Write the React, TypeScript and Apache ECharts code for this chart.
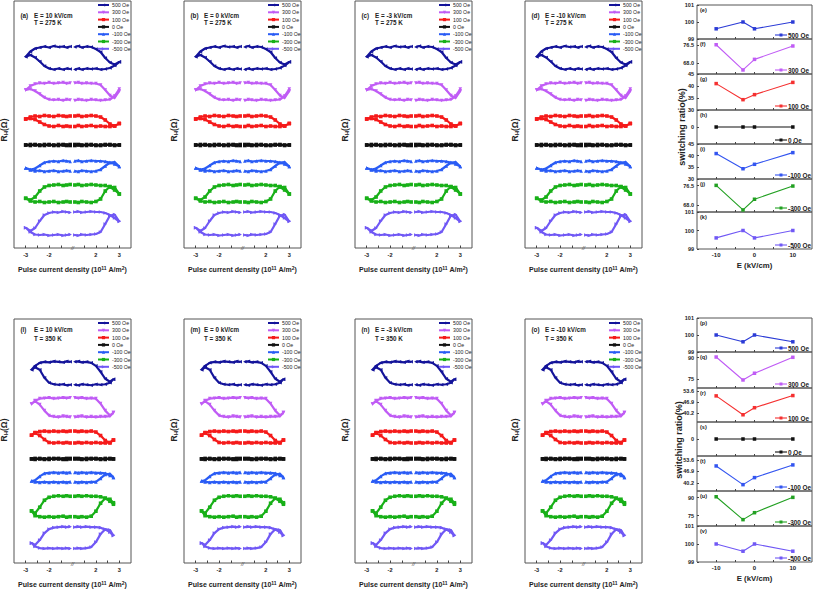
import React, { useEffect, useRef } from 'react';
import * as echarts from 'echarts';

// ---------- legend / series identity ----------
const FIELDS = ['500 Oe', '300 Oe', '100 Oe', '0 Oe', '-100 Oe', '-300 Oe', '-500 Oe'];
const LOOP_COLORS = ['#14149a', '#c05cf5', '#f51a1a', '#111111', '#2a5cf5', '#18b018', '#7058f5'];
const RATIO_COLORS = ['#2b3bd6', '#c05cf5', '#f53030', '#111111', '#3355f0', '#22a022', '#7058f5'];
const SYMBOLS = ['triangle', 'triangle', 'rect', 'rect', 'triangle', 'rect', 'triangle'];
const SYMBOL_ROT = [90, 180, 0, 0, 0, 0, -90];

// ---------- hysteresis loops, T = 275 K (pulse current density, 1e11 A/m^2) ----------
const X_LEFT_275 = [-3, -2.8, -2.6, -2.4, -2.2, -2.0, -1.8, -1.6, -1.4, -1.25, -1.1];
const X_RIGHT_275 = [1.1, 1.25, 1.4, 1.6, 1.8, 2.0, 2.2, 2.4, 2.6, 2.8, 3.0];
// R_H readings (arbitrary units, larger = lower on the plot)
const UPPER_LEFT_275 = [
  [56.7, 51.5, 48.5, 47.5, 46.5, 47.5, 46, 47, 46.5, 47.5, 46.5],
  [90, 86, 84, 83, 83.5, 82.5, 83.5, 83, 82.5, 83.5, 83],
  [119, 117, 116, 116.5, 115.5, 116, 116.5, 115.5, 116, 116.5, 116],
  [145, 144.5, 145, 145.5, 144.5, 145, 145.5, 144.5, 145, 145.5, 144.5],
  [168, 169.5, 168.5, 165.5, 162.5, 161.5, 161, 161.5, 160.5, 161, 161.5],
  [198.3, 200, 197, 191, 187, 185.5, 185, 184.5, 185.5, 185, 184.5],
  [227.7, 231, 228, 221, 215, 213, 212, 212.5, 211.5, 212, 212.5],
];
const UPPER_RIGHT_275 = [
  [47, 46, 47.5, 46.5, 47, 49, 52, 58, 62.5, 64.5, 62],
  [83, 82.5, 83.5, 83, 83.5, 83.5, 85, 90, 95.5, 98, 91],
  [116, 115.5, 116.5, 116, 115.5, 116, 117, 120, 124, 126, 123.5],
  [144.5, 145, 145.5, 144.5, 145, 145.5, 145, 144.5, 145, 145.5, 145],
  [161, 160.5, 161.5, 161, 160.5, 161, 161, 161.5, 162.5, 164, 166.5],
  [185, 184.5, 185.5, 185, 184.5, 185, 185.5, 185.5, 187, 190, 194],
  [212, 211.5, 212.5, 212, 211.5, 212, 212, 213, 215, 218, 221.5],
];
const LOWER_LEFT_275 = [
  [56.7, 55, 57.5, 61.5, 66, 68.5, 69.5, 68.5, 69.5, 68.5, 69],
  [90, 89, 91, 94, 97.5, 99.5, 100, 99.5, 100.5, 99.5, 100],
  [119, 118.5, 119.5, 122, 124.5, 126, 126.5, 125.5, 126.5, 126, 126.5],
  [145, 145.5, 144.5, 145, 145.5, 144.5, 145, 145.5, 144.5, 145, 145.5],
  [168, 170, 171, 170.5, 171.5, 171, 170.5, 171.5, 171, 170.5, 171],
  [198.3, 201, 202, 201.5, 202.5, 202, 201.5, 202.5, 202, 201.5, 202],
  [227.7, 232, 234.5, 235, 234.5, 235.5, 235, 234.5, 235.5, 235, 234.5],
];
const LOWER_RIGHT_275 = [
  [69.5, 68.5, 69.5, 68.5, 69, 68.5, 69.5, 69, 68, 65.5, 61.7],
  [100.5, 99.5, 100, 100.5, 99.5, 100, 100.5, 100, 99.5, 96, 89],
  [126.5, 125.5, 126.5, 126, 125.5, 126.5, 126, 126.5, 126.5, 126, 123.5],
  [145.5, 144.5, 145, 145.5, 144.5, 145, 145.5, 145, 144.5, 145, 145],
  [171, 171.5, 170.5, 171, 171.5, 171, 169.5, 166, 162.5, 162, 166.5],
  [202, 202.5, 201.5, 202, 202.5, 201.5, 199, 191, 186.5, 187.5, 194],
  [235, 235.5, 234.5, 235, 234.5, 234, 232, 224, 215.5, 214.5, 221],
];

// ---------- hysteresis loops, T = 350 K ----------
const X_LEFT_350 = [-2.75, -2.6, -2.4, -2.2, -2.0, -1.8, -1.6, -1.4, -1.25, -1.1];
const X_RIGHT_350 = [1.1, 1.25, 1.4, 1.6, 1.8, 2.0, 2.2, 2.4, 2.6, 2.75];
const UPPER_LEFT_350 = [
  [370, 366, 363, 362, 362.5, 361.5, 362, 362.5, 361.5, 362],
  [404.3, 401, 399, 398.5, 398, 399, 398.5, 398, 398.5, 398],
  [435.7, 433, 432, 431.5, 432, 431.5, 432, 431.5, 432, 431.5],
  [459.5, 459, 459.5, 460, 459, 459.5, 459, 459.5, 460, 459],
  [481.7, 481, 477, 474, 473.5, 473, 473.5, 473, 473.5, 473],
  [511.7, 514, 508, 501, 498, 497, 496.5, 497, 496.5, 497],
  [544, 546, 541, 534, 530, 528.5, 528, 527.5, 528, 527.5],
];
const UPPER_RIGHT_350 = [
  [362, 361.5, 362.5, 362, 363, 366, 372, 379, 382, 379.5],
  [398, 398.5, 398, 399, 398.5, 399, 404, 411, 416, 413],
  [431.5, 432, 431.5, 432, 431.5, 432.5, 436, 441, 443.5, 440.5],
  [459, 459.5, 460, 459, 459.5, 459, 459.5, 460, 459, 459.5],
  [473, 473.5, 473, 473.5, 473, 473.5, 473.5, 474, 476, 478],
  [497, 496.5, 497, 496.5, 497, 497, 497.5, 499, 502, 505],
  [528, 527.5, 528, 527.5, 528, 528, 528.5, 530.5, 533, 536.5],
];
const LOWER_LEFT_350 = [
  [370, 367.5, 370, 378, 383, 384.5, 385, 384.5, 385.5, 385],
  [404.3, 401.5, 405, 411, 416, 417, 417.5, 416.5, 417, 417.5],
  [435.7, 433.5, 436, 440, 443, 443.5, 443, 443.5, 443, 443.5],
  [459.5, 460, 459, 459.5, 460, 459, 459.5, 460, 459, 459.5],
  [481.7, 482.5, 483, 482.5, 483, 482.5, 483, 482.5, 483, 482.5],
  [511.7, 516.5, 517.5, 518, 517.5, 518, 517.5, 517, 518, 517.5],
  [544, 547.5, 549, 549.5, 549, 549.5, 549, 549.5, 549, 549.5],
];
const LOWER_RIGHT_350 = [
  [385, 385.5, 384.5, 385, 385.5, 384.5, 385, 384.5, 383, 379.5],
  [417.5, 417, 416.5, 417.5, 417, 417.5, 417, 417, 416.5, 413],
  [443.5, 443, 443.5, 443, 443.5, 443, 443.5, 443.5, 443, 440.5],
  [459.5, 459, 459.5, 460, 459, 459.5, 460, 459, 459.5, 459.5],
  [482.5, 483, 482.5, 483, 482.5, 482.5, 479, 475, 474.5, 478],
  [517.5, 518, 517.5, 518, 517, 512, 504, 499, 500, 503.5],
  [549.5, 549, 549.5, 549, 548, 543, 535, 530, 531, 536],
];

const PANEL_TAGS_275 = ['(a)', '(b)', '(c)', '(d)'];
const PANEL_TAGS_350 = ['(l)', '(m)', '(n)', '(o)'];
const PANEL_FIELDS = ['10', '0', '-3', '-10'];
const X_TICK_VALUES = [-3, -2, 2, 3];

// ---------- switching ratio vs E ----------
const E_VALUES = [-10, -3, 0, 10];
const RATIO_275 = [
  [99.6, 100, 99.6, 100],
  [76.8, 64.9, 69.9, 76.2],
  [41, 34.3, 36.4, 41.5],
  [0, 0, 0, 0],
  [40.9, 34.4, 36.3, 41.3],
  [76.6, 65.8, 70.5, 76.3],
  [99.6, 100, 99.6, 100],
];
const RATIO_350 = [
  [100, 99.6, 100, 99.6],
  [90.5, 74.5, 79.2, 90.3],
  [50.8, 39.3, 43.6, 51],
  [0, 0, 0, 0],
  [50.1, 39.2, 43.3, 50.7],
  [90.8, 71.7, 77.5, 90.3],
  [100, 99.6, 100, 99.6],
];
const RATIO_TICKS_275 = [[99, 100, 101], [68, 76.5], [30, 35, 40, 45], [0], [30, 35, 40, 45], [68, 76.5], [99, 100, 101]];
const RATIO_TICKS_350 = [[99, 100, 101], [75, 90], [40.2, 46.9, 53.6], [0], [40.2, 46.9, 53.6], [75, 90], [99, 100, 101]];
const RATIO_RANGE_275 = [[99, 101], [63, 79.5], [30, 45], [-1, 1], [30, 45], [64.9, 79.4], [99, 101]];
const RATIO_RANGE_350 = [[99, 101], [68.9, 94], [34.9, 55.6], [-1, 1], [35.5, 55.9], [66.4, 95.6], [99, 101]];
const RATIO_TAGS_275 = ['(e)', '(f)', '(g)', '(h)', '(i)', '(j)', '(k)'];
const RATIO_TAGS_350 = ['(p)', '(q)', '(r)', '(s)', '(t)', '(u)', '(v)'];
const E_TICKS = [-10, 0, 10];

// ---------- layout ----------
const FONT = 'Arial, "Liberation Sans", sans-serif';
const HYST_LEFTS = [14, 184, 355, 525];
const HYST_W = 117;
const ROWS = [
  {
    top: 1, height: 247, tags: PANEL_TAGS_275, temp: 'T = 275 K', textY: [15, 22.5], ylabelY: 130,
    xl: X_LEFT_275, xr: X_RIGHT_275, ul: UPPER_LEFT_275, ur: UPPER_RIGHT_275, ll: LOWER_LEFT_275, lr: LOWER_RIGHT_275,
    ratio: RATIO_275, ticks: RATIO_TICKS_275, range: RATIO_RANGE_275, rtags: RATIO_TAGS_275,
    subTops: [5, 39, 74, 110, 144, 179, 212, 249], srY: 127, srX: 682,
  },
  {
    top: 319, height: 245, tags: PANEL_TAGS_350, temp: 'T = 350 K', textY: [329.5, 338], ylabelY: 430,
    xl: X_LEFT_350, xr: X_RIGHT_350, ul: UPPER_LEFT_350, ur: UPPER_RIGHT_350, ll: LOWER_LEFT_350, lr: LOWER_RIGHT_350,
    ratio: RATIO_350, ticks: RATIO_TICKS_350, range: RATIO_RANGE_350, rtags: RATIO_TAGS_350,
    subTops: [318, 352, 388, 422, 456, 491, 526, 562], srY: 440, srX: 679,
  },
];
const RIGHT_LEFT = 697;
const RIGHT_W = 115;

// broken axis: [-3.5,-1] and [1,3.5] are drawn side by side
const tx = (x: number) => (x < 0 ? x + 1 : x - 1);

function loopData(xl: number[], xr: number[], ul: number[], ur: number[], ll: number[], lr: number[]) {
  const d: any[] = [];
  xl.forEach((x, i) => d.push([tx(x), ul[i]]));
  d.push(['-', '-']);
  xr.forEach((x, i) => d.push([tx(x), ur[i]]));
  for (let i = xr.length - 1; i >= 0; i--) d.push([tx(xr[i]), lr[i]]);
  d.push(['-', '-']);
  for (let i = xl.length - 1; i >= 0; i--) d.push([tx(xl[i]), ll[i]]);
  return d;
}

function buildOption() {
  const grid: any[] = [];
  const xAxis: any[] = [];
  const yAxis: any[] = [];
  const series: any[] = [];
  const legend: any[] = [];
  const graphic: any[] = [];

  ROWS.forEach((row) => {
    HYST_LEFTS.forEach((left, c) => {
      const idx = grid.length;
      grid.push({ left, top: row.top, width: HYST_W, height: row.height, show: true, borderColor: '#555', borderWidth: 1 });
      const tickPos = X_TICK_VALUES.map(tx);
      xAxis.push({
        type: 'value', gridIndex: idx, min: -2.5, max: 2.5,
        axisLine: { show: false, onZero: false }, splitLine: { show: false },
        axisTick: { show: true, inside: true, length: 2.5, customValues: [-2, -1.5, -1, -0.5, 0.5, 1, 1.5, 2], lineStyle: { color: '#444' } },
        axisLabel: {
          customValues: tickPos, fontSize: 5.6, fontWeight: 'bold', color: '#222', fontFamily: FONT, margin: 4,
          showMinLabel: true, showMaxLabel: true,
          formatter: (v: number) => { const i = tickPos.findIndex((t) => Math.abs(t - v) < 1e-6); return i >= 0 ? String(X_TICK_VALUES[i]) : ''; },
        },
        name: 'Pulse current density (10{sup|11} A/m{sup|2})',
        nameLocation: 'middle', nameGap: 17,
        nameTextStyle: {
          fontSize: 7, fontWeight: 'bold', color: '#222', fontFamily: FONT,
          rich: { sup: { fontSize: 5, fontWeight: 'bold', fontFamily: FONT, color: '#222', verticalAlign: 'top', padding: [0, 0, 4, 0] } },
        },
      });
      yAxis.push({
        type: 'value', gridIndex: idx, inverse: true, min: row.top, max: row.top + row.height,
        axisLine: { show: false, onZero: false }, axisTick: { show: false }, axisLabel: { show: false }, splitLine: { show: false },
      });
      FIELDS.forEach((name, k) => {
        series.push({
          type: 'line', name, xAxisIndex: idx, yAxisIndex: idx, silent: true,
          data: loopData(row.xl, row.xr, row.ul[k], row.ur[k], row.ll[k], row.lr[k]),
          symbol: SYMBOLS[k], symbolRotate: SYMBOL_ROT[k], symbolSize: 3.6, showSymbol: true, showAllSymbol: true,
          lineStyle: { width: 2.2, color: LOOP_COLORS[k] }, itemStyle: { color: LOOP_COLORS[k] },
        });
      });
      legend.push({
        left: left + 83, top: row.top + 1, orient: 'vertical', padding: 0, itemGap: 1.3,
        itemWidth: 11, itemHeight: 4, selectedMode: false, data: FIELDS,
        textStyle: { fontSize: 5.2, lineHeight: 6, color: '#222', fontFamily: FONT, padding: [0, 0, 0, -2] },
      });
      graphic.push(
        { type: 'text', x: left + 6.5, y: row.textY[0], style: { text: row.tags[c], fontSize: 6.3, fontWeight: 'bold', fontFamily: FONT, fill: '#222', verticalAlign: 'middle' } },
        { type: 'text', x: left + 20, y: row.textY[0], style: { text: `E = ${PANEL_FIELDS[c]} kV/cm`, fontSize: 6.3, fontWeight: 'bold', fontFamily: FONT, fill: '#222', verticalAlign: 'middle' } },
        { type: 'text', x: left + 20, y: row.textY[1], style: { text: row.temp, fontSize: 6.3, fontWeight: 'bold', fontFamily: FONT, fill: '#222', verticalAlign: 'middle' } },
        { type: 'text', x: left + 58.5, y: row.top + row.height, style: { text: '//', fontSize: 5.5, fontStyle: 'italic', fontFamily: FONT, fill: '#444', align: 'center', verticalAlign: 'middle' } },
        {
          type: 'text', x: left - 10, y: row.ylabelY, rotation: Math.PI / 2,
          style: {
            text: '{r|R}{s|H}{r|(Ω)}', align: 'center', verticalAlign: 'middle', fill: '#222',
            rich: {
              r: { fontSize: 8.5, fontWeight: 'bold', fontFamily: FONT, fill: '#222' },
              s: { fontSize: 6, fontWeight: 'bold', fontFamily: FONT, fill: '#222', padding: [4, 0, 0, 0] },
            },
          },
        },
      );
    });

    // switching ratio column
    FIELDS.forEach((name, k) => {
      const idx = grid.length;
      const top = row.subTops[k];
      const bottom = row.subTops[k + 1];
      const last = k === FIELDS.length - 1;
      const ticks = row.ticks[k];
      const decimals = ticks.some((t) => !Number.isInteger(t)) ? 1 : 0;
      grid.push({ left: RIGHT_LEFT, top, width: RIGHT_W, height: bottom - top, show: true, borderColor: '#555', borderWidth: 1 });
      xAxis.push({
        type: 'value', gridIndex: idx, min: -15, max: 15,
        axisLine: { show: false, onZero: false }, splitLine: { show: false },
        axisTick: { show: true, inside: true, length: 2, customValues: [-10, -5, 0, 5, 10], lineStyle: { color: '#444' } },
        axisLabel: { show: last, customValues: E_TICKS, fontSize: 6, fontWeight: 'bold', color: '#222', fontFamily: FONT, margin: 3 },
        name: last ? 'E (kV/cm)' : '', nameLocation: 'middle', nameGap: 12,
        nameTextStyle: { fontSize: 7.8, fontWeight: 'bold', color: '#222', fontFamily: FONT },
      });
      yAxis.push({
        type: 'value', gridIndex: idx, min: row.range[k][0], max: row.range[k][1],
        axisLine: { show: false, onZero: false }, splitLine: { show: false },
        axisTick: { show: true, inside: true, length: 2, customValues: ticks, lineStyle: { color: '#444' } },
        axisLabel: {
          customValues: ticks, fontSize: 5.5, fontWeight: 'bold', color: '#222', fontFamily: FONT, margin: 3,
          showMinLabel: true, showMaxLabel: true, formatter: (v: number) => v.toFixed(decimals),
        },
      });
      series.push({
        type: 'line', name: name + ' ratio', xAxisIndex: idx, yAxisIndex: idx, silent: true,
        data: E_VALUES.map((e, i) => [e, row.ratio[k][i]]),
        symbol: 'rect', symbolSize: 3.5, lineStyle: { width: 1.1, color: RATIO_COLORS[k] }, itemStyle: { color: RATIO_COLORS[k] },
      });
      const ly = bottom - 4;
      graphic.push(
        { type: 'text', x: RIGHT_LEFT + 3, y: top + 5, style: { text: row.rtags[k], fontSize: 5.5, fontWeight: 'bold', fontFamily: FONT, fill: '#222', verticalAlign: 'middle' } },
        { type: 'line', shape: { x1: 775, y1: ly, x2: 787, y2: ly }, style: { stroke: RATIO_COLORS[k], lineWidth: 1.1 } },
        { type: 'rect', shape: { x: 779.5, y: ly - 1.5, width: 3, height: 3 }, style: { fill: RATIO_COLORS[k] } },
        { type: 'text', x: 788, y: ly, style: { text: name, fontSize: 6.4, fontWeight: 'bold', fontFamily: FONT, fill: '#222', verticalAlign: 'middle' } },
      );
    });
    graphic.push({
      type: 'text', x: row.srX, y: row.srY, rotation: Math.PI / 2,
      style: { text: 'switching ratio(%)', fontSize: 9, fontWeight: 'bold', fontFamily: FONT, fill: '#222', align: 'center', verticalAlign: 'middle' },
    });
  });

  return { animation: false, backgroundColor: '#fff', grid, xAxis, yAxis, series, legend, graphic };
}

export default function App() {
  const ref = useRef<HTMLDivElement>(null);
  useEffect(() => {
    document.body.style.margin = '0';
    const chart = echarts.init(ref.current!, null, { renderer: 'svg' });
    chart.setOption(buildOption() as any);
    return () => chart.dispose();
  }, []);
  return <div ref={ref} style={{ width: 813, height: 589, background: '#fff' }} />;
}
